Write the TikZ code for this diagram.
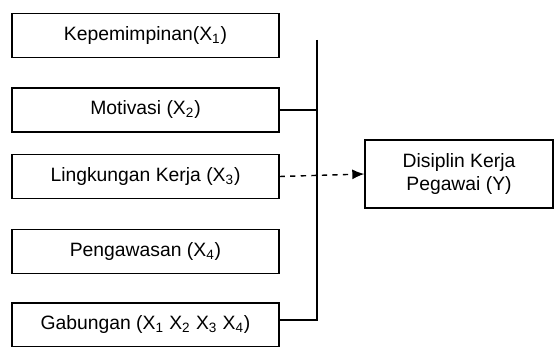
\documentclass[tikz,border=0pt]{standalone}
\usepackage{fontspec}
\setmainfont{Liberation Sans}
\usepackage{tikz}
\usetikzlibrary{arrows.meta}

\tikzset{
    varbox/.style={
        draw,
        line width=0.8pt,
        minimum width=5.34cm,
        minimum height=0.88cm,
        anchor=center,
        font=\fontsize{11}{13}\selectfont
    }
}

\begin{document}
\begin{tikzpicture}[x=0.02cm, y=-0.02cm, line width=0.8pt]
    \useasboundingbox (0,0) rectangle (555,347);
    \node[varbox] (x1) at (145.5, 35.5) {Kepemimpinan(X\textsubscript{1})};
    \node[varbox] (x2) at (145.5, 110) {Motivasi (X\textsubscript{2})};
    \node[varbox] (x3) at (145.5, 176.5) {Lingkungan Kerja (X\textsubscript{3})};
    \node[varbox] (x4) at (145.5, 251.5) {Pengawasan (X\textsubscript{4})};
    \node[varbox] (x5) at (145.5, 325) {Gabungan (X\textsubscript{1} X\textsubscript{2} X\textsubscript{3} X\textsubscript{4})};
    \node[varbox, minimum width=3.76cm, minimum height=1.36cm, align=center] (y) at (459, 174)
        {Disiplin Kerja\\Pegawai (Y)};
    \coordinate (bustop) at (317, 40);
    \coordinate (busbot) at (317, 320);
    \draw (bustop) -- (busbot) -- (busbot -| x5.east);
    \draw (x2.east) -- (x2.east -| bustop);
    \draw[dashed, -{Latex[length=2.4mm, width=2mm]}] (x3.east) -- (y.west);
\end{tikzpicture}
\end{document}
